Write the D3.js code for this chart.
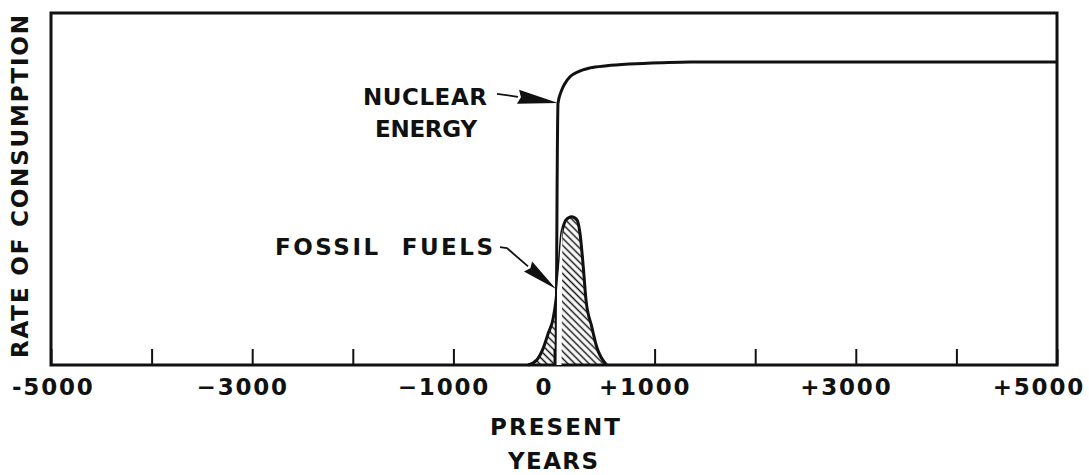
<!DOCTYPE html>
<html>
<head>
<meta charset="utf-8">
<title>Rate of consumption: fossil fuels and nuclear energy</title>
<script src="https://d3js.org/d3.v7.min.js"></script>
<style>
  body { margin: 0; background: #fff; }
  text { font-family: "DejaVu Sans", sans-serif; font-weight: bold; fill: #111; }
</style>
</head>
<body>
<div id="chart"></div>
<script>
// Ticks along the time axis (years) and the ones that carry a label
const tickYears  = [-5000, -4000, -3000, -2000, -1000, 0, 1000, 2000, 3000, 4000, 5000];
const labelYears = [-5000, -3000, -1000, 0, 1000, 3000, 5000];
const labelText  = ["-5000", "\u22123000", "\u22121000", "0", "+1000", "+3000", "+5000"];

// Nuclear energy curve (year, rate on a 0-100 scale)
const nuclearYears = [20, 25, 30, 40, 77, 109, 159, 239, 358, 524, 755, 1083, 1352, 3440, 5000];
const nuclearRate  = [0, 20, 46.9, 74.4, 78.1, 80.0, 81.9, 83.3, 84.4, 85.0, 85.5, 85.9, 86.1, 86.1, 86.1];

// Fossil fuels curve (year, rate)
const fossilYears = [-258, -172, -110, -57, -10, 20, 50, 77, 92, 119, 176, 229, 258, 291, 318, 375, 424, 524];
const fossilRate  = [0, 1.4, 4.6, 9.0, 13.0, 18.5, 27.9, 37.5, 39.3, 41.2, 42.1, 41.2, 37.5, 27.9, 18.5, 10.9, 5.2, 0];

// Pointer arrows (year, rate); last point is the tip, the one before is the head base
const nuclearArrowYears = [-567, -358, 40];
const nuclearArrowRate  = [77.0, 76.2, 74.4];
const fossilArrowYears  = [-537, -467, -258, 20];
const fossilArrowRate   = [33.5, 33.2, 28.0, 21.6];

const W = 1089, H = 475;
const margin = {top: 13, right: 32, bottom: 110, left: 51};
const plotWidth = W - margin.left - margin.right;
const plotHeight = H - margin.top - margin.bottom;

const svg = d3.select("#chart").append("svg")
  .attr("width", W)
  .attr("height", H);

const g = svg.append("g")
  .attr("transform", "translate(" + margin.left + "," + margin.top + ")");

const x = d3.scaleLinear().domain([-5000, 5000]).range([0, plotWidth]);
const y = d3.scaleLinear().domain([0, 100]).range([plotHeight, 0]);

// hatch pattern for the fossil fuel hump
const defs = svg.append("defs");
defs.append("pattern")
  .attr("id", "hatch")
  .attr("patternUnits", "userSpaceOnUse")
  .attr("width", 5).attr("height", 5)
  .attr("patternTransform", "rotate(45)")
  .append("line")
    .attr("x1", 0).attr("y1", 2.5).attr("x2", 5).attr("y2", 2.5)
    .attr("stroke", "#111").attr("stroke-width", 1.5);

const nuclear = nuclearYears.map((d, i) => [d, nuclearRate[i]]);
const fossil = fossilYears.map((d, i) => [d, fossilRate[i]]);

const line = d3.line()
  .x(d => x(d[0]))
  .y(d => y(d[1]))
  .curve(d3.curveMonotoneX);

const area = d3.area()
  .x(d => x(d[0]))
  .y0(y(0))
  .y1(d => y(d[1]))
  .curve(d3.curveMonotoneX);

defs.append("clipPath").attr("id", "fossilClip")
  .append("path")
    .attr("transform", "translate(" + margin.left + "," + margin.top + ")")
    .attr("d", area(fossil));

// fossil fuels: hatched fill
g.append("path")
  .datum(fossil)
  .attr("d", area)
  .attr("fill", "url(#hatch)");

// white gap just right of the nuclear line inside the hatching
svg.append("g")
  .attr("clip-path", "url(#fossilClip)")
  .append("path")
    .attr("transform", "translate(" + (margin.left + 3) + "," + margin.top + ")")
    .datum(nuclear)
    .attr("d", line)
    .attr("fill", "none")
    .attr("stroke", "#fff")
    .attr("stroke-width", 5);

// fossil fuels outline
g.append("path")
  .datum(fossil)
  .attr("d", line)
  .attr("fill", "none")
  .attr("stroke", "#111")
  .attr("stroke-width", 3)
  .attr("stroke-linejoin", "round");

// nuclear energy curve
g.append("path")
  .datum(nuclear)
  .attr("d", line)
  .attr("fill", "none")
  .attr("stroke", "#111")
  .attr("stroke-width", 3);

// frame
g.append("rect")
  .attr("x", 0).attr("y", 0)
  .attr("width", plotWidth).attr("height", plotHeight)
  .attr("fill", "none")
  .attr("stroke", "#111")
  .attr("stroke-width", 3);

// time axis: short ticks pointing up, labels on every other tick
const xAxis = g.append("g")
  .attr("transform", "translate(0," + plotHeight + ")")
  .call(d3.axisBottom(x)
    .tickValues(tickYears)
    .tickSizeInner(-16)
    .tickSizeOuter(0)
    .tickPadding(14)
    .tickFormat(d => {
      const i = labelYears.indexOf(d);
      return i >= 0 ? labelText[i] : "";
    }));
xAxis.select(".domain").remove();
xAxis.selectAll(".tick line").attr("stroke", "#111").attr("stroke-width", 2);
xAxis.selectAll(".tick text")
  .attr("font-size", 23)
  .attr("fill", "#111")
  .attr("dx", -10)
  .style("letter-spacing", "1.8px")
  .each(function() {
    // keep the end labels inside the page, like the hand lettering does
    const b = this.getBBox();
    const tx = +this.parentNode.getAttribute("transform").match(/translate\(([-\d.]+)/)[1] + margin.left;
    const left = tx + b.x, right = tx + b.x + b.width;
    if (left < 12) d3.select(this).attr("dx", -10 + (12 - left));
    if (right > W - 4) d3.select(this).attr("dx", -10 - (right - (W - 4)));
  });

// axis titles
g.append("text")
  .attr("x", x(0) + 1)
  .attr("y", plotHeight + 70)
  .attr("text-anchor", "middle")
  .attr("font-size", 23)
  .attr("textLength", 130)
  .attr("lengthAdjust", "spacing")
  .text("PRESENT");

g.append("text")
  .attr("x", x(0) - 1)
  .attr("y", plotHeight + 104)
  .attr("text-anchor", "middle")
  .attr("font-size", 23)
  .attr("textLength", 90)
  .attr("lengthAdjust", "spacing")
  .text("YEARS");

svg.append("text")
  .attr("transform", "translate(28," + (margin.top + plotHeight / 2 - 2.5) + ") rotate(-90)")
  .attr("text-anchor", "middle")
  .attr("font-size", 23)
  .attr("textLength", 343)
  .attr("lengthAdjust", "spacing")
  .text("RATE OF CONSUMPTION");

// annotations
function addLabel(txt, year, rate, len) {
  g.append("text")
    .attr("x", x(year))
    .attr("y", y(rate))
    .attr("font-size", 23)
    .attr("textLength", len)
    .attr("lengthAdjust", "spacing")
    .style("white-space", "pre")
    .text(txt);
}
addLabel("NUCLEAR", -1899, 73.9, 124);
addLabel("ENERGY", -1779, 64.9, 102);
addLabel("FOSSIL  FUELS", -2773, 31.25, 218);

function addArrow(years, rates, halfWidth) {
  const pts = years.map((d, i) => [x(d), y(rates[i])]);
  const tip = pts[pts.length - 1];
  const base = pts[pts.length - 2];
  g.append("path")
    .attr("d", d3.line()(pts.slice(0, -1)))
    .attr("fill", "none")
    .attr("stroke", "#111")
    .attr("stroke-width", 1.8)
    .attr("stroke-linejoin", "round");
  const dx = tip[0] - base[0], dy = tip[1] - base[1];
  const len = Math.sqrt(dx * dx + dy * dy);
  const nx = -dy / len * halfWidth, ny = dx / len * halfWidth;
  g.append("path")
    .attr("d", "M" + (base[0] + nx) + "," + (base[1] + ny) +
               "L" + tip[0] + "," + tip[1] +
               "L" + (base[0] - nx) + "," + (base[1] - ny) +
               "L" + (base[0] + dx / len * 3) + "," + (base[1] + dy / len * 3) + "Z")
    .attr("fill", "#111");
}
addArrow(nuclearArrowYears, nuclearArrowRate, 7);
addArrow(fossilArrowYears, fossilArrowRate, 6.5);
</script>
</body>
</html>
